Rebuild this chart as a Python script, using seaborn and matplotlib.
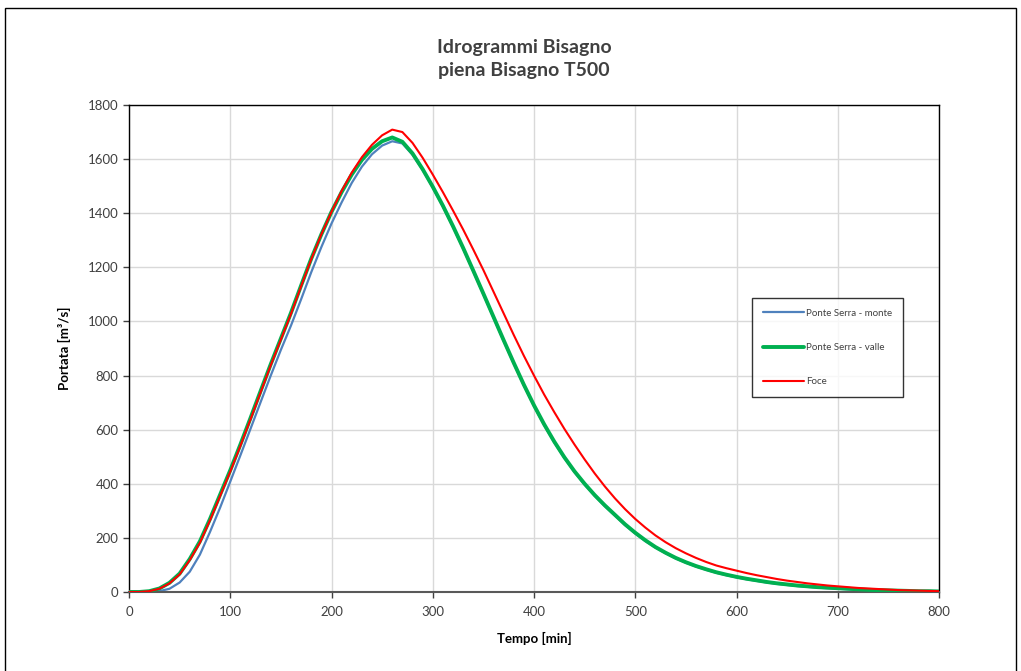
import numpy as np
import pandas as pd
import seaborn as sns
import matplotlib
matplotlib.use("Agg")
import matplotlib.pyplot as plt
from matplotlib.patches import Rectangle

# ---- data ----
tempo = list(range(0, 801, 10))

foce = [0, 0, 3, 12, 32, 65, 118, 182, 265, 355,
        445, 540, 638, 738, 838, 933, 1028, 1130, 1230, 1322,
        1405, 1482, 1550, 1607, 1653, 1688, 1709, 1700, 1660, 1605,
        1543, 1478, 1410, 1340, 1266, 1190, 1110, 1030, 950, 873,
        800, 730, 665, 603, 545, 490, 438, 390, 346, 306,
        270, 238, 209, 184, 162, 143, 126, 111, 98, 88,
        79, 70, 62, 55, 48, 42, 37, 32, 28, 24,
        21, 18, 15, 13, 11, 9, 7, 6, 5, 4, 3]

valle = [0, 0, 3, 13, 34, 68, 122, 187, 270, 360,
         450, 545, 643, 743, 842, 937, 1032, 1133, 1232, 1322,
         1405, 1478, 1543, 1597, 1638, 1666, 1680, 1664, 1621, 1563,
         1498, 1428, 1352, 1272, 1188, 1103, 1017, 931, 847, 766,
         690, 620, 556, 498, 446, 400, 358, 320, 285, 250,
         219, 191, 166, 145, 126, 110, 96, 84, 73, 64,
         56, 49, 43, 37, 32, 28, 24, 21, 18, 16,
         14, 12, 10, 8, 7, 6, 5, 4, 3, 3, 2]

monte = [0, 0, 0, 3, 12, 35, 75, 138, 222, 312,
         408, 505, 603, 702, 800, 895, 985, 1082, 1182, 1275,
         1362, 1440, 1512, 1572, 1618, 1650, 1666, 1658, 1616, 1560,
         1495, 1425, 1349, 1269, 1185, 1100, 1014, 928, 844, 763,
         687, 617, 553, 495, 443, 397, 355, 317, 282, 247,
         216, 188, 164, 143, 124, 108, 94, 82, 71, 62,
         54, 47, 41, 35, 30, 26, 22, 19, 16, 14,
         12, 10, 8, 7, 6, 5, 4, 3, 2, 2, 1]

series_names = ["Ponte Serra - monte", "Ponte Serra - valle", "Foce"]
title_text = "Idrogrammi Bisagno\npiena Bisagno T500"
x_label = "Tempo [min]"
y_label = "Portata [m\u00b3/s]"
x_ticks = list(range(0, 801, 100))
y_ticks = list(range(0, 1801, 200))

# ---- styling ----
sns.set_theme(style="white")
plt.rcParams["font.family"] = ["Lato", "DejaVu Sans"]

fig = plt.figure(figsize=(10.21, 6.71), dpi=100)
ax = fig.add_axes([129 / 1021, 1 - 592 / 671, 810 / 1021, 487 / 671])

df = pd.DataFrame({"t": tempo, "monte": monte, "valle": valle, "foce": foce})

sns.lineplot(data=df, x="t", y="monte", ax=ax, color="#4F81BD", linewidth=1.6,
             label=series_names[0], zorder=2)
sns.lineplot(data=df, x="t", y="valle", ax=ax, color="#00B050", linewidth=2.8,
             label=series_names[1], zorder=3)
sns.lineplot(data=df, x="t", y="foce", ax=ax, color="#FF0000", linewidth=1.5,
             label=series_names[2], zorder=4)

ax.set_xlim(0, 800)
ax.set_ylim(0, 1800)
ax.set_xticks(x_ticks)
ax.set_yticks(y_ticks)
ax.grid(True, color="#d9d9d9", linewidth=1.0)
ax.set_axisbelow(True)
for s in ax.spines.values():
    s.set_color("#000000")
    s.set_linewidth(1.0)
ax.spines["bottom"].set_color("#595959")
ax.spines["bottom"].set_linewidth(1.5)

ax.tick_params(axis="both", which="major", direction="out", length=4, width=1,
               color="#404040", labelsize=9.5, labelcolor="#404040", bottom=True, left=True)
ax.tick_params(axis="x", pad=6)
ax.set_xlabel(x_label, fontsize=9.5, fontweight="bold", color="#000000", labelpad=10)
ax.set_ylabel(y_label, fontsize=9.5, fontweight="bold", color="#000000", labelpad=12)

fig.text(524 / 1021, 1 - 59 / 671, title_text, ha="center", va="center",
         fontsize=14, fontweight="bold", color="#404040", linespacing=1.45)

leg = ax.legend(loc="upper left", bbox_to_anchor=((752 - 129) / 810, (592 - 298) / 487),
                frameon=True, fancybox=False, edgecolor="#000000", fontsize=7,
                labelspacing=2.6, handlelength=4.2, handletextpad=0.3,
                borderpad=1.1, borderaxespad=0)
leg.get_frame().set_linewidth(1.0)
for txt in leg.get_texts():
    txt.set_color("#404040")

# outer chart border
fig.patches.append(Rectangle((5 / 1021, -0.01), 1011 / 1021, 1 - 8 / 671 + 0.01,
                             transform=fig.transFigure, fill=False,
                             edgecolor="#000000", linewidth=1.0))

fig.savefig("out.png", dpi=100, facecolor="white")
